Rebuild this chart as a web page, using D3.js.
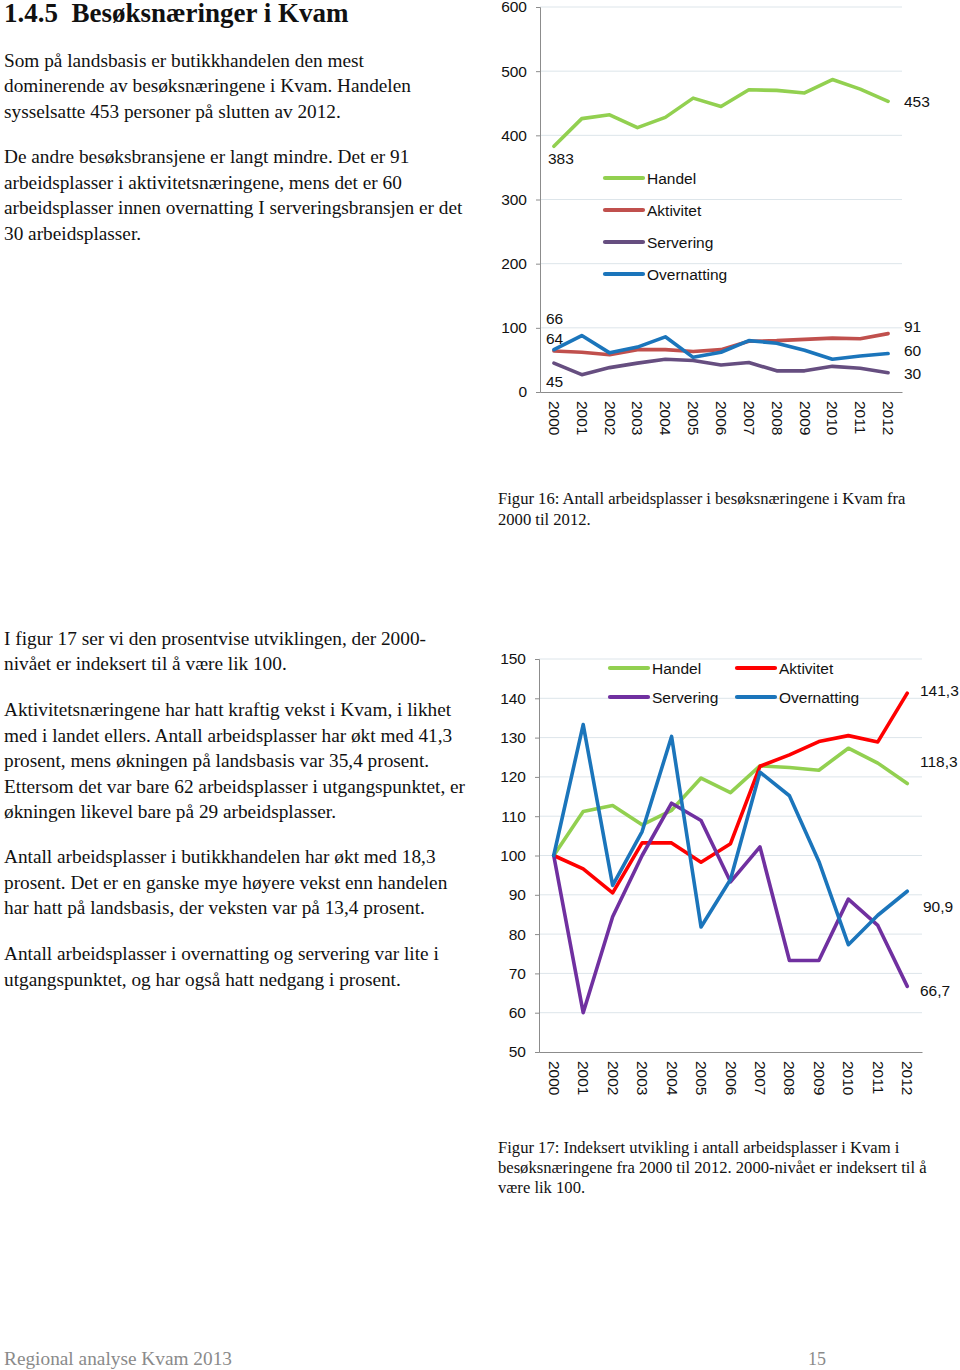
<!DOCTYPE html>
<html><head><meta charset="utf-8">
<script src="https://cdn.jsdelivr.net/npm/d3@7"></script>
<style>
body{margin:0;background:#fff;}
svg{display:block;}
.serif{font-family:"Liberation Serif","Times New Roman",serif;fill:#111;}
.sans{font-family:"Liberation Sans",Arial,sans-serif;fill:#111;}
</style></head><body>
<svg id="page" width="960" height="1370"></svg>
<script>
// ---------- DATA ----------
const years = ["2000","2001","2002","2003","2004","2005","2006","2007","2008","2009","2010","2011","2012"];
const seriesNames = ["Handel","Aktivitet","Servering","Overnatting"];

// Figure 16: number of jobs
const handelAbs      = [383, 426, 432, 412, 428, 458, 445, 471, 470, 466, 487, 472, 453];
const aktivitetAbs   = [64, 62, 58, 66, 66, 63, 66, 79, 80, 82, 84, 83, 91];
const serveringAbs   = [45, 27, 38, 45, 51, 49, 42, 46, 33, 33, 40, 37, 30];
const overnattingAbs = [66, 88, 61, 70, 86, 54, 62, 80, 76, 65, 51, 56, 60];
const absTicks = [0, 100, 200, 300, 400, 500, 600];

// Figure 17: indexed (2000 = 100)
const handelIdx      = [100, 111.2, 112.7, 107.8, 111.5, 119.7, 116.0, 122.8, 122.4, 121.7, 127.3, 123.5, 118.3];
const aktivitetIdx   = [100, 96.6, 90.5, 103.2, 103.2, 98.3, 103.0, 122.7, 125.6, 129.0, 130.5, 128.9, 141.3];
const serveringIdx   = [100, 60.0, 84.4, 100.0, 113.3, 108.9, 93.3, 102.2, 73.3, 73.3, 88.9, 82.2, 66.7];
const overnattingIdx = [100, 133.3, 92.4, 106.1, 130.3, 81.8, 93.9, 121.2, 115.2, 98.5, 77.3, 84.8, 90.9];
const idxTicks = [50, 60, 70, 80, 90, 100, 110, 120, 130, 140, 150];

// ---------- PAGE TEXT ----------
const svg = d3.select("#page");

function para(x, y0, lh, lines, size, cls, fill) {
  const t = svg.append("text").attr("class", cls || "serif").attr("font-size", size);
  if (fill) t.style("fill", fill);
  lines.forEach((l, i) => t.append("tspan").attr("x", x).attr("y", y0 + i * lh).text(l));
}

svg.append("text").attr("class","serif").attr("x",4).attr("y",22)
  .attr("font-size",27).attr("font-weight","bold").attr("xml:space","preserve")
  .text("1.4.5  Besøksnæringer i Kvam");

const BODY = 19.3;
para(4, 67, 25.4, ["Som på landsbasis er butikkhandelen den mest",
  "dominerende av besøksnæringene i Kvam. Handelen",
  "sysselsatte 453 personer på slutten av 2012."], BODY);
para(4, 163, 25.6, ["De andre besøksbransjene er langt mindre. Det er 91",
  "arbeidsplasser i aktivitetsnæringene, mens det er 60",
  "arbeidsplasser innen overnatting I serveringsbransjen er det",
  "30 arbeidsplasser."], BODY);

para(498, 504, 20.5, ["Figur 16: Antall arbeidsplasser i besøksnæringene i Kvam fra",
  "2000 til 2012."], 16.6);

para(4, 645, 25.4, ["I figur 17 ser vi den prosentvise utviklingen, der 2000-",
  "nivået er indeksert til å være lik 100."], BODY);
para(4, 716, 25.5, ["Aktivitetsnæringene har hatt kraftig vekst i Kvam, i likhet",
  "med i landet ellers. Antall arbeidsplasser har økt med 41,3",
  "prosent, mens økningen på landsbasis var 35,4 prosent.",
  "Ettersom det var bare 62 arbeidsplasser i utgangspunktet, er",
  "økningen likevel bare på 29 arbeidsplasser."], BODY);
para(4, 863, 25.5, ["Antall arbeidsplasser i butikkhandelen har økt med 18,3",
  "prosent. Det er en ganske mye høyere vekst enn handelen",
  "har hatt på landsbasis, der veksten var på 13,4 prosent."], BODY);
para(4, 960, 25.5, ["Antall arbeidsplasser i overnatting og servering var lite i",
  "utgangspunktet, og har også hatt nedgang i prosent."], BODY);

para(498, 1153, 20, ["Figur 17: Indeksert utvikling i antall arbeidsplasser i Kvam i",
  "besøksnæringene fra 2000 til 2012. 2000-nivået er indeksert til å",
  "være lik 100."], 16.6);

svg.append("text").attr("class","serif").attr("x",4).attr("y",1365).attr("font-size",18)
  .style("fill","#8a8a8a").attr("textLength",228).attr("lengthAdjust","spacingAndGlyphs")
  .text("Regional analyse Kvam 2013");
svg.append("text").attr("class","serif").attr("x",808).attr("y",1365).attr("font-size",18)
  .style("fill","#8a8a8a").text("15");

// ---------- CHART HELPER ----------
function drawChart(opt) {
  const g = svg.append("g");
  const x = d3.scaleBand().domain(years).range([opt.x0, opt.x1]).padding(0);
  const cx = d => x(d) + x.bandwidth() / 2;
  const y = d3.scaleLinear().domain(opt.domain).range([opt.y0, opt.y1]);

  // gridlines
  g.append("g").selectAll("line").data(opt.ticks.slice(1)).join("line")
    .attr("x1", opt.x0).attr("x2", opt.x1)
    .attr("y1", d => y(d)).attr("y2", d => y(d))
    .attr("stroke", "#dde5ea").attr("stroke-width", 1);

  // y axis
  const ya = g.append("g").attr("transform", `translate(${opt.x0},0)`)
    .call(d3.axisLeft(y).tickValues(opt.ticks).tickSize(4).tickPadding(9).tickFormat(d3.format("d")));
  ya.select(".domain").attr("stroke", "#8c8c8c");
  ya.selectAll(".tick line").attr("stroke", "#8c8c8c");
  ya.selectAll("text").attr("font-family", "Liberation Sans, Arial, sans-serif")
    .attr("font-size", 15.5).attr("fill", "#111");

  // x axis
  const xa = g.append("g").attr("transform", `translate(0,${opt.y0})`)
    .call(d3.axisBottom(x).tickSize(0).tickPadding(0));
  xa.select(".domain").attr("stroke", "#8c8c8c");
  xa.selectAll("text").attr("font-family", "Liberation Sans, Arial, sans-serif")
    .attr("font-size", 15.5).attr("fill", "#111")
    .attr("text-anchor", "start").attr("dy", null)
    .attr("transform", "translate(-5,9) rotate(90)")
    .attr("x", 0).attr("y", 0);

  // lines
  const line = d3.line().x((d, i) => cx(years[i])).y(d => y(d));
  opt.series.forEach(s => {
    g.append("path").datum(s.values).attr("d", line)
      .attr("fill", "none").attr("stroke", s.color).attr("stroke-width", 3.6)
      .attr("stroke-linejoin", "round").attr("stroke-linecap", "round");
  });

  // legend
  opt.legend.forEach(l => {
    g.append("line").attr("x1", l.x).attr("x2", l.x + 38).attr("y1", l.y).attr("y2", l.y)
      .attr("stroke", l.color).attr("stroke-width", 4.2).attr("stroke-linecap", "round");
    g.append("text").attr("class", "sans").attr("x", l.x + 42).attr("y", l.y + 5.5)
      .attr("font-size", 15.5).text(l.name);
  });

  // data labels
  opt.labels.forEach(l => {
    g.append("text").attr("class", "sans").attr("x", l.x).attr("y", l.y + 5.5)
      .attr("font-size", 15.5).text(l.text);
  });
}

// Figure 16
const col1 = ["#92d050", "#c0504d", "#664e80", "#1b75bb"];
drawChart({
  x0: 540, x1: 902, y0: 392, y1: 7, domain: [0, 600], ticks: absTicks,
  series: [
    {values: handelAbs, color: col1[0]},
    {values: aktivitetAbs, color: col1[1]},
    {values: serveringAbs, color: col1[2]},
    {values: overnattingAbs, color: col1[3]}
  ],
  legend: seriesNames.map((n, i) => ({name: n, color: col1[i], x: 605, y: 178 + i * 32})),
  labels: [
    {text: String(handelAbs[0]), x: 548, y: 158},
    {text: String(handelAbs[12]), x: 904, y: 101},
    {text: String(overnattingAbs[0]), x: 546, y: 318},
    {text: String(aktivitetAbs[0]), x: 546, y: 338},
    {text: String(serveringAbs[0]), x: 546, y: 381},
    {text: String(aktivitetAbs[12]), x: 904, y: 326},
    {text: String(overnattingAbs[12]), x: 904, y: 350},
    {text: String(serveringAbs[12]), x: 904, y: 373}
  ]
});

// Figure 17
const col2 = ["#92d050", "#ff0000", "#7030a0", "#1b75bb"];
const fmt = v => String(v).replace(".", ",");
drawChart({
  x0: 539, x1: 922, y0: 1052, y1: 659, domain: [50, 150], ticks: idxTicks,
  series: [
    {values: handelIdx, color: col2[0]},
    {values: aktivitetIdx, color: col2[1]},
    {values: serveringIdx, color: col2[2]},
    {values: overnattingIdx, color: col2[3]}
  ],
  legend: [
    {name: seriesNames[0], color: col2[0], x: 610, y: 668},
    {name: seriesNames[1], color: col2[1], x: 737, y: 668},
    {name: seriesNames[2], color: col2[2], x: 610, y: 697},
    {name: seriesNames[3], color: col2[3], x: 737, y: 697}
  ],
  labels: [
    {text: fmt(aktivitetIdx[12]), x: 920, y: 690},
    {text: fmt(handelIdx[12]), x: 920, y: 761},
    {text: fmt(overnattingIdx[12]), x: 923, y: 906},
    {text: fmt(serveringIdx[12]), x: 920, y: 990}
  ]
});
</script>
</body></html>
